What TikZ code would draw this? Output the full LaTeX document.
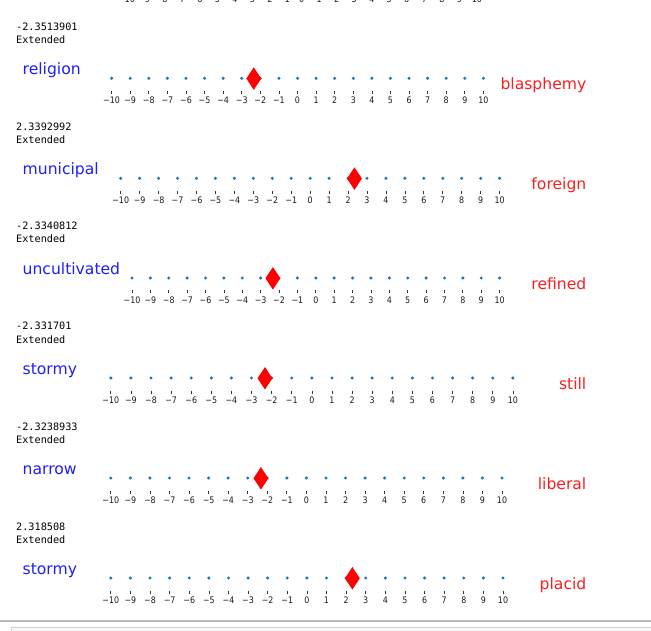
\documentclass[tikz,border=0pt]{standalone}
\usepackage{fontspec}
\setmainfont{DejaVu Sans}
\setmonofont{DejaVu Sans Mono}
\newfontfamily\tickfont[FakeStretch=0.88]{DejaVu Sans}
\usetikzlibrary{shapes.geometric}
\definecolor{dotblue}{HTML}{1F77B4}
\definecolor{wordblue}{RGB}{30,30,250}
\definecolor{wordred}{RGB}{250,30,30}
\newcommand\ticklab[1]{\ifnum#1<0 −\number\numexpr0-#1\relax\else#1\fi}

\begin{document}
\begin{tikzpicture}[x=1pt,y=-1pt,
  numtext/.style={anchor=base west,inner sep=0pt,font=\fontsize{10.2}{12}\ttfamily},
  leftword/.style={anchor=base west,inner sep=0pt,text=wordblue,font=\fontsize{15.6}{18}\selectfont},
  rightword/.style={anchor=base east,inner sep=0pt,text=wordred,font=\fontsize{15.6}{18}\selectfont},
  dot/.style={circle,fill=dotblue,inner sep=0pt,minimum size=3.4pt},
  tickline/.style={black!80,line width=0.7pt},
  ticklabel/.style={anchor=base,inner sep=0pt,text=black!90,font=\fontsize{9}{10}\tickfont},
  marker/.style={diamond,fill=red,inner sep=0pt,minimum width=15pt,minimum height=22.7pt}]
\useasboundingbox (0,0) rectangle (651,631);

% tick labels of the panel above, cut off at the top
\foreach \i in {-10,...,10}
  \node[ticklabel] (top\i) at ({126.6+(\i+10)*17.51},3) {\ticklab{\i}};

% one panel per word pair
\foreach \pn/\py/\ptxt/\lw/\rw/\xa/\xb/\v in {
  1/78.3/-2.3513901/religion/blasphemy/111.6/483.4/-2.3513901,
  2/178.3/2.3392992/municipal/foreign/120.7/499.6/2.3392992,
  3/278/-2.3340812/uncultivated/refined/132/499.6/-2.3340812,
  4/378/-2.331701/stormy/still/110.8/512.9/-2.331701,
  5/478/-2.3238933/narrow/liberal/110.8/502/-2.3238933,
  6/578/2.318508/stormy/placid/110.8/503/2.318508}{
  \node[numtext] (num\pn) at (16,\py-48) {\ptxt};
  \node[numtext] (ext\pn) at (16,\py-35) {Extended};
  \node[leftword] (lw\pn) at (22.5,\py-3.3) {\lw};
  \node[rightword] (rw\pn) at (586.5,\py+11.7) {\rw};
  \foreach \i in {-10,...,10}{
    \pgfmathsetmacro\xi{\xa+(\i+10)*(\xb-\xa)/20}
    \node[dot] (d\pn\i) at (\xi,\py) {};
    \draw[tickline] (\xi,\py+12.5) -- (\xi,\py+15.5);
    \node[ticklabel] (t\pn\i) at (\xi,\py+25) {\ticklab{\i}};
  }
  \pgfmathsetmacro\xv{\xa+(\v+10)*(\xb-\xa)/20}
  \node[marker] (m\pn) at (\xv,\py+0.3) {};
}

% bottom rule and box
\draw[gray!55,line width=1.2pt] (0,621) -- (651,621);
\draw[gray!35,fill=gray!6] (11.6,627.5) rectangle (660,640);
\end{tikzpicture}
\end{document}
